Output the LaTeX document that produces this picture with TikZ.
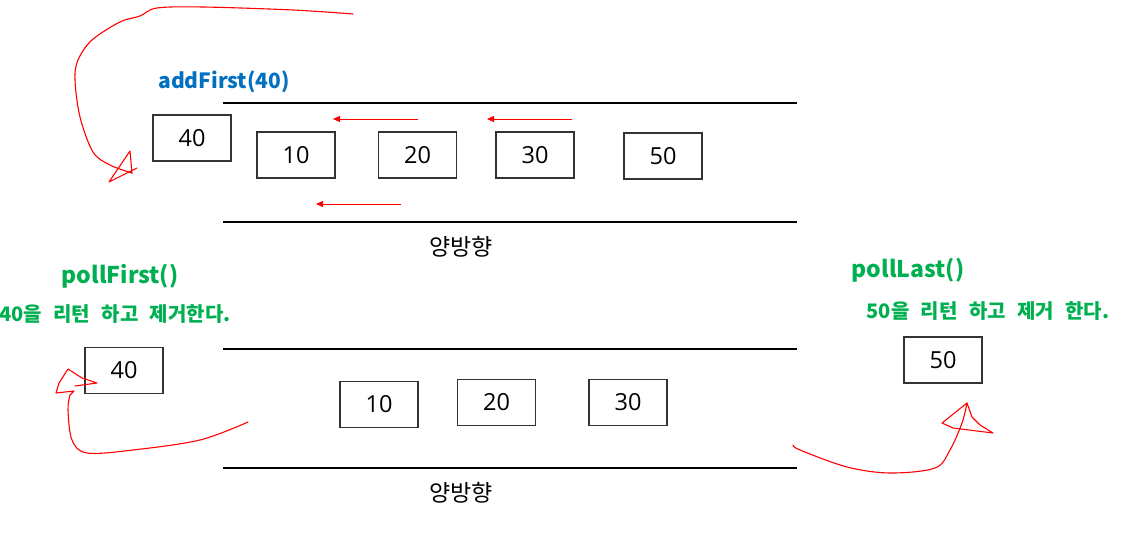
\documentclass[tikz,border=0pt]{standalone}
\usepackage{fontspec}
\setmainfont{Noto Sans CJK KR}
\newfontfamily\mynumfont{Open Sans}
\usetikzlibrary{arrows.meta}
\definecolor{blueT}{HTML}{0070C0}
\definecolor{greenT}{HTML}{00B050}
\definecolor{redT}{HTML}{FF0000}
\newcommand\mywidesp{\spaceskip=0.57em\relax}
\begin{document}
\begin{tikzpicture}[x=1pt,y=-1pt,
  box/.style={draw=black!80,line width=1.1pt,minimum width=78pt,minimum height=46pt,inner sep=0pt,font=\mynumfont\fontsize{23.5}{27}\selectfont},
  rail/.style={draw=black,line width=1.1pt},
  redarrow/.style={draw=redT,line width=0.9pt,-{Triangle[length=7pt,width=6pt]}},
  hand/.style={draw=redT,line width=1.1pt,line join=round,line cap=round},
  bluelabel/.style={text=blueT,font=\fontsize{21}{24}\selectfont\bfseries},
  greenlabel/.style={text=greenT,font=\fontsize{23}{26}\selectfont\bfseries},
  greensub/.style={text=greenT,font=\fontsize{20}{23}\selectfont\bfseries\mywidesp},
  caption/.style={font=\fontsize{23}{26}\selectfont}]
\useasboundingbox (0,0) rectangle (1127,543);
\fill[white] (0,0) rectangle (1127,543);

% rails
\coordinate (t1a) at (223,103); \coordinate (t1b) at (797,103);
\coordinate (t2a) at (223,222); \coordinate (t2b) at (797,222);
\coordinate (b1a) at (223,349); \coordinate (b1b) at (797,349);
\coordinate (b2a) at (223,468); \coordinate (b2b) at (797,468);
\draw[rail] (t1a) -- (t1b);
\draw[rail] (t2a) -- (t2b);
\draw[rail] (b1a) -- (b1b);
\draw[rail] (b2a) -- (b2b);

% top boxes
\node[box] (tf) at (192,138) {40};
\node[box] (t10) at (296,155) {10};
\node[box] (t20) at (417.5,155) {20};
\node[box] (t30) at (535,155) {30};
\node[box] (t50) at (663,156) {50};

% bottom boxes
\node[box] (bf) at (124,370.5) {40};
\node[box] (b10) at (379,404.5) {10};
\node[box] (b20) at (496.5,402.5) {20};
\node[box] (b30) at (628,402.5) {30};
\node[box] (bl) at (943,360) {50};

% labels
\node[bluelabel] (add) at (224,82) {addFirst(40)};
\node[caption] (cap1) at (461,247) {양방향};
\node[caption] (cap2) at (461,493) {양방향};
\node[greenlabel] (pf) at (120,276) {pollFirst()};
\node[greensub] (pfs) at (115,314) {40을 리턴 하고 제거한다.};
\node[greenlabel] (pl) at (908,270) {pollLast()};
\node[greensub] (pls) at (988,311) {50을 리턴 하고 제거 한다.};

% red arrows
\coordinate (a1s) at (418,119); \coordinate (a1e) at (333,119);
\coordinate (a2s) at (572,119); \coordinate (a2e) at (487,119);
\coordinate (a3s) at (401,204); \coordinate (a3e) at (316,204);
\draw[redarrow] (a1s) -- (a1e);
\draw[redarrow] (a2s) -- (a2e);
\draw[redarrow] (a3s) -- (a3e);

% hand-drawn curves
\draw[hand] plot[smooth,tension=0.55] coordinates {(353,14) (293,10) (203,7) (157,8) (140,16) (120,22) (92,40) (78,60) (75,80) (80,117) (93,152) (110,165) (132,173)};
\draw[hand] (132,173) -- (130,151) -- (109,182) -- (137,168);

\draw[hand] plot[smooth,tension=0.55] coordinates {(248,422) (200,440) (133,450) (87,453) (72,440) (68,410) (70,395)};
\draw[hand] (70,395) -- (74,391) -- (56,393) -- (59,383) -- (68,369) -- (82,378) -- (97,383) -- (75,386);

\draw[hand] plot[smooth,tension=0.55] coordinates {(793,445) (800,450) (847,467) (890,473) (935,468) (950,450) (962,423) (967,403)};
\draw[hand] (967,403) -- (942,423) -- (953,428) -- (993,433) -- (980,425) -- (972,417) -- (967,403);
\end{tikzpicture}
\end{document}
